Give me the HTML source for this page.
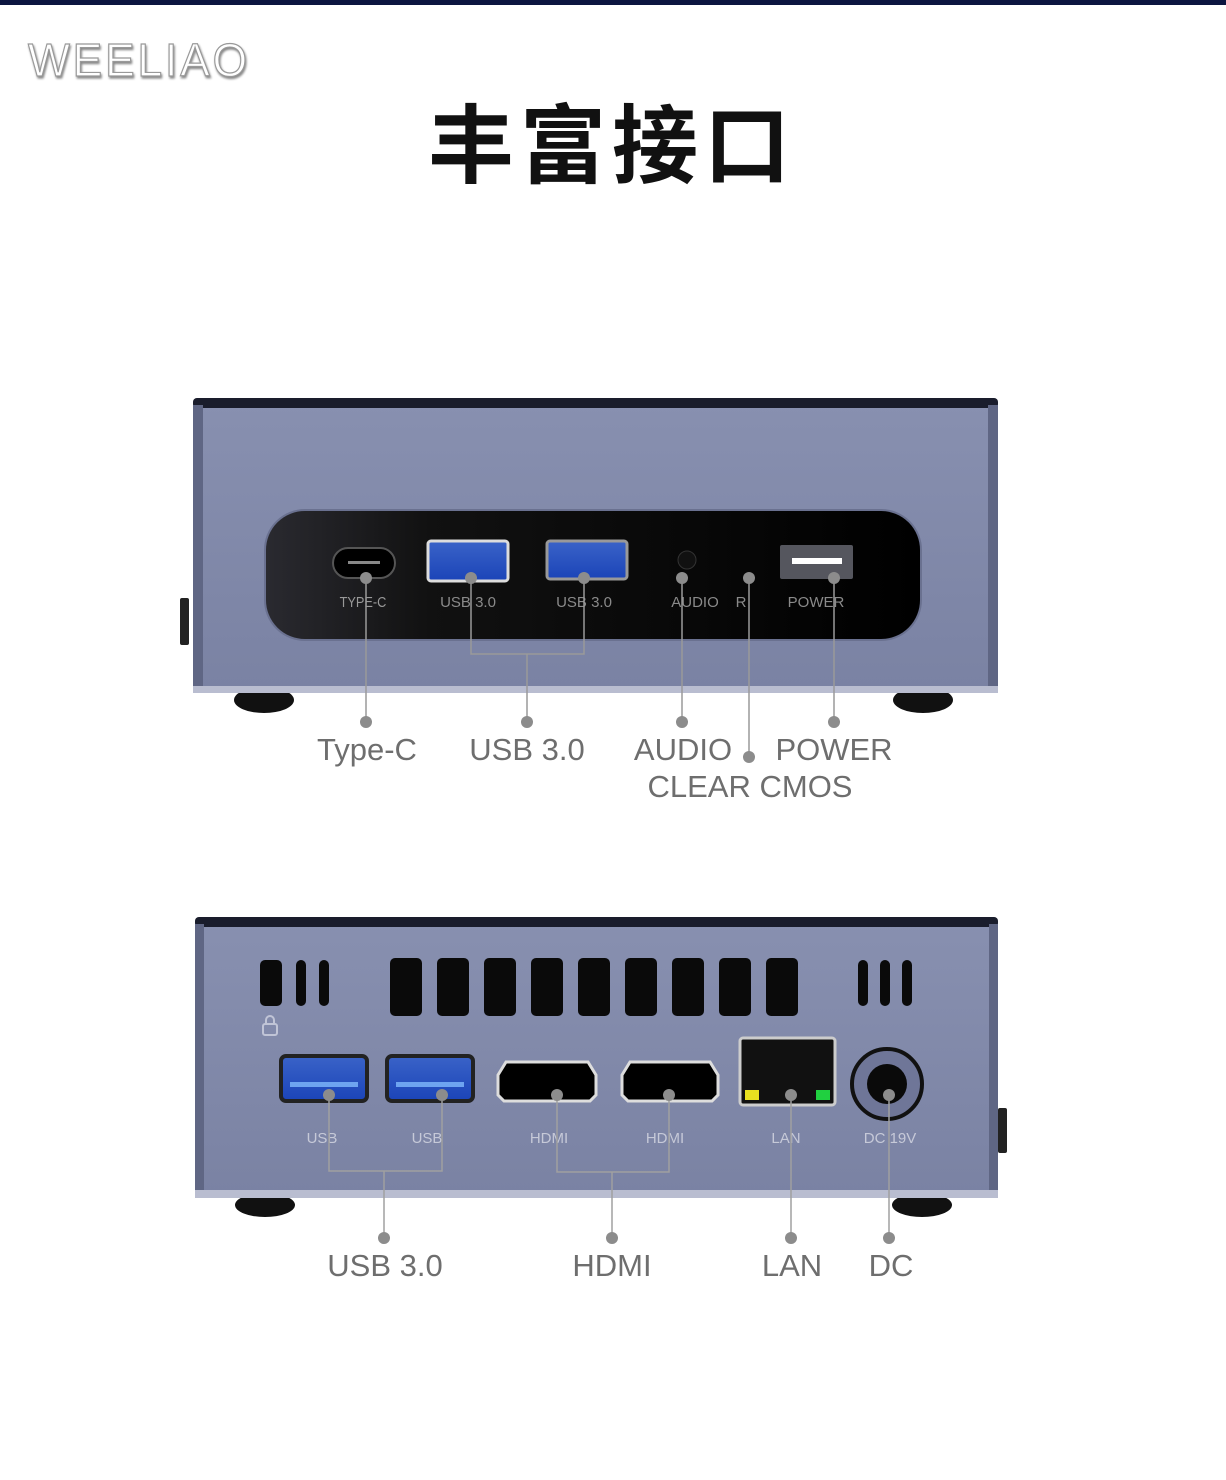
<!DOCTYPE html>
<html><head><meta charset="utf-8"><style>
html,body{margin:0;padding:0;background:#fff;}
body{width:1226px;height:1480px;position:relative;overflow:hidden;font-family:"Liberation Sans","Noto Sans CJK SC",sans-serif;}
svg{position:absolute;left:0;top:0;}
</style></head><body>
<svg width="1226" height="1480" viewBox="0 0 1226 1480">
<defs>
<linearGradient id="bd" x1="0" y1="0" x2="0" y2="1"><stop offset="0" stop-color="#8890b0"/><stop offset="1" stop-color="#7a82a3"/></linearGradient>
<linearGradient id="pn" x1="0" y1="0" x2="1" y2="0"><stop offset="0" stop-color="#2a2a30"/><stop offset="0.25" stop-color="#111"/><stop offset="1" stop-color="#000"/></linearGradient>
<linearGradient id="usb" x1="0" y1="0" x2="0" y2="1"><stop offset="0" stop-color="#3a63c8"/><stop offset="1" stop-color="#1b44b8"/></linearGradient>
</defs>
<rect x="0" y="0" width="1226" height="5" fill="#0c1540"/>
<text x="28" y="76" font-family="Liberation Sans,sans-serif" font-size="46" fill="#fff" stroke="#999" stroke-width="1.2" letter-spacing="3" textLength="222" lengthAdjust="spacingAndGlyphs" style="filter:drop-shadow(1px 2px 1px #888)">WEELIAO</text>
<text x="612" y="176" text-anchor="middle" font-family="Noto Sans CJK SC,sans-serif" font-weight="bold" font-size="86" fill="#111" letter-spacing="6">丰富接口</text>

<!-- FRONT DEVICE -->
<ellipse cx="264" cy="700" rx="30" ry="13" fill="#111"/>
<ellipse cx="923" cy="700" rx="30" ry="13" fill="#111"/>
<rect x="180" y="598" width="9" height="47" rx="2" fill="#222"/>
<rect x="193" y="398" width="805" height="295" rx="5" fill="url(#bd)"/>
<rect x="193" y="398" width="805" height="10" rx="4" fill="#1a1d2c"/>
<rect x="193" y="405" width="10" height="288" fill="#5f6684"/>
<rect x="988" y="405" width="10" height="288" fill="#5f6684"/>
<rect x="193" y="686" width="805" height="7" fill="#b9bdd0"/>
<rect x="265" y="510" width="656" height="130" rx="40" fill="url(#pn)" stroke="#6a7190" stroke-width="2"/>
<rect x="333" y="548" width="62" height="30" rx="15" fill="#000" stroke="#555" stroke-width="2"/>
<rect x="348" y="561" width="32" height="3" fill="#888"/>
<rect x="428" y="541" width="80" height="40" rx="3" fill="url(#usb)" stroke="#ddd" stroke-width="3"/>
<rect x="547" y="541" width="80" height="38" rx="3" fill="url(#usb)" stroke="#999" stroke-width="3"/>
<circle cx="687" cy="560" r="9" fill="#111" stroke="#333"/>
<rect x="780" y="545" width="73" height="34" rx="2" fill="#55565e"/>
<rect x="792" y="558" width="50" height="6" fill="#fff"/>
<g font-family="Liberation Sans,sans-serif" font-size="15" fill="#8a8a8a" text-anchor="middle">
<text x="363" y="607" fill="#999" transform="scale(0.85,1) translate(64,0)">TYPE-C</text>
<text x="468" y="607">USB 3.0</text><text x="584" y="607">USB 3.0</text>
<text x="695" y="607">AUDIO</text><text x="741" y="607">R</text><text x="816" y="607">POWER</text>
</g>
<g stroke="#9a9a9a" stroke-width="1.5" fill="none">
<path d="M366 578V722M471 578V654H584V578M527 654V722M682 578V722M749 578V757M834 578V722"/>
</g>
<g fill="#8c8c8c">
<circle cx="366" cy="578" r="6"/><circle cx="471" cy="578" r="6"/><circle cx="584" cy="578" r="6"/><circle cx="682" cy="578" r="6"/><circle cx="749" cy="578" r="6"/><circle cx="834" cy="578" r="6"/>
<circle cx="366" cy="722" r="6"/><circle cx="527" cy="722" r="6"/><circle cx="682" cy="722" r="6"/><circle cx="749" cy="757" r="6"/><circle cx="834" cy="722" r="6"/>
</g>
<g font-family="Liberation Sans,sans-serif" font-size="31" fill="#6e6e6e" text-anchor="middle">
<text x="367" y="760">Type-C</text><text x="527" y="760">USB 3.0</text><text x="683" y="760">AUDIO</text><text x="834" y="760">POWER</text><text x="750" y="797">CLEAR CMOS</text>
</g>

<!-- REAR DEVICE -->
<ellipse cx="265" cy="1205" rx="30" ry="12" fill="#111"/>
<ellipse cx="922" cy="1205" rx="30" ry="12" fill="#111"/>
<rect x="998" y="1108" width="9" height="45" rx="2" fill="#222"/>
<rect x="195" y="917" width="803" height="281" rx="5" fill="url(#bd)"/>
<rect x="195" y="917" width="803" height="10" rx="4" fill="#1a1d2c"/>
<rect x="195" y="924" width="9" height="274" fill="#5f6684"/>
<rect x="989" y="924" width="9" height="274" fill="#5f6684"/>
<rect x="195" y="1190" width="803" height="8" fill="#b9bdd0"/>
<g fill="#0a0a0a">
<rect x="260" y="960" width="22" height="46" rx="5"/><rect x="296" y="960" width="10" height="46" rx="5"/><rect x="319" y="960" width="10" height="46" rx="5"/>
<rect x="390" y="958" width="32" height="58" rx="5"/><rect x="437" y="958" width="32" height="58" rx="5"/><rect x="484" y="958" width="32" height="58" rx="5"/><rect x="531" y="958" width="32" height="58" rx="5"/><rect x="578" y="958" width="32" height="58" rx="5"/><rect x="625" y="958" width="32" height="58" rx="5"/><rect x="672" y="958" width="32" height="58" rx="5"/><rect x="719" y="958" width="32" height="58" rx="5"/><rect x="766" y="958" width="32" height="58" rx="5"/>
<rect x="858" y="960" width="10" height="46" rx="5"/><rect x="880" y="960" width="10" height="46" rx="5"/><rect x="902" y="960" width="10" height="46" rx="5"/>
</g>
<rect x="263" y="1024" width="14" height="11" rx="2" fill="none" stroke="#c0c4d6" stroke-width="2"/>
<path d="M266 1024v-4a4 4 0 0 1 8 0v4" fill="none" stroke="#c0c4d6" stroke-width="2"/>
<rect x="281" y="1056" width="86" height="45" rx="5" fill="url(#usb)" stroke="#222" stroke-width="4"/>
<rect x="387" y="1056" width="86" height="45" rx="5" fill="url(#usb)" stroke="#222" stroke-width="4"/>
<rect x="290" y="1082" width="68" height="5" fill="#6ea4f0"/><rect x="396" y="1082" width="68" height="5" fill="#6ea4f0"/>
<path d="M506 1062H588L596 1075V1095L590 1101H504L498 1095V1075Z" fill="#000" stroke="#ddd" stroke-width="3"/>
<path d="M630 1062H710L718 1075V1095L712 1101H628L622 1095V1075Z" fill="#000" stroke="#ddd" stroke-width="3"/>
<rect x="740" y="1038" width="95" height="67" rx="3" fill="#111" stroke="#ccc" stroke-width="3"/>
<rect x="745" y="1090" width="14" height="10" fill="#e8e020"/><rect x="816" y="1090" width="14" height="10" fill="#20d040"/>
<circle cx="887" cy="1084" r="35" fill="#6f7698" stroke="#111" stroke-width="4"/>
<circle cx="887" cy="1084" r="20" fill="#0a0a0a"/>
<g font-family="Liberation Sans,sans-serif" font-size="15" fill="#c6c9d8" text-anchor="middle">
<text x="322" y="1143">USB</text><text x="427" y="1143">USB</text><text x="549" y="1143">HDMI</text><text x="665" y="1143">HDMI</text><text x="786" y="1143">LAN</text><text x="890" y="1143">DC 19V</text>
</g>
<g stroke="#a0a0a0" stroke-width="1.5" fill="none">
<path d="M329 1095V1171H442V1095M384 1171V1238M557 1095V1172H669V1095M612 1172V1238M791 1095V1238M889 1095V1238"/>
</g>
<g fill="#8c8c8c">
<circle cx="329" cy="1095" r="6"/><circle cx="442" cy="1095" r="6"/><circle cx="557" cy="1095" r="6"/><circle cx="669" cy="1095" r="6"/><circle cx="791" cy="1095" r="6"/><circle cx="889" cy="1095" r="6"/>
<circle cx="384" cy="1238" r="6"/><circle cx="612" cy="1238" r="6"/><circle cx="791" cy="1238" r="6"/><circle cx="889" cy="1238" r="6"/>
</g>
<g font-family="Liberation Sans,sans-serif" font-size="31" fill="#6e6e6e" text-anchor="middle">
<text x="385" y="1276">USB 3.0</text><text x="612" y="1276">HDMI</text><text x="792" y="1276">LAN</text><text x="891" y="1276">DC</text>
</g>
</svg>
</body></html>
